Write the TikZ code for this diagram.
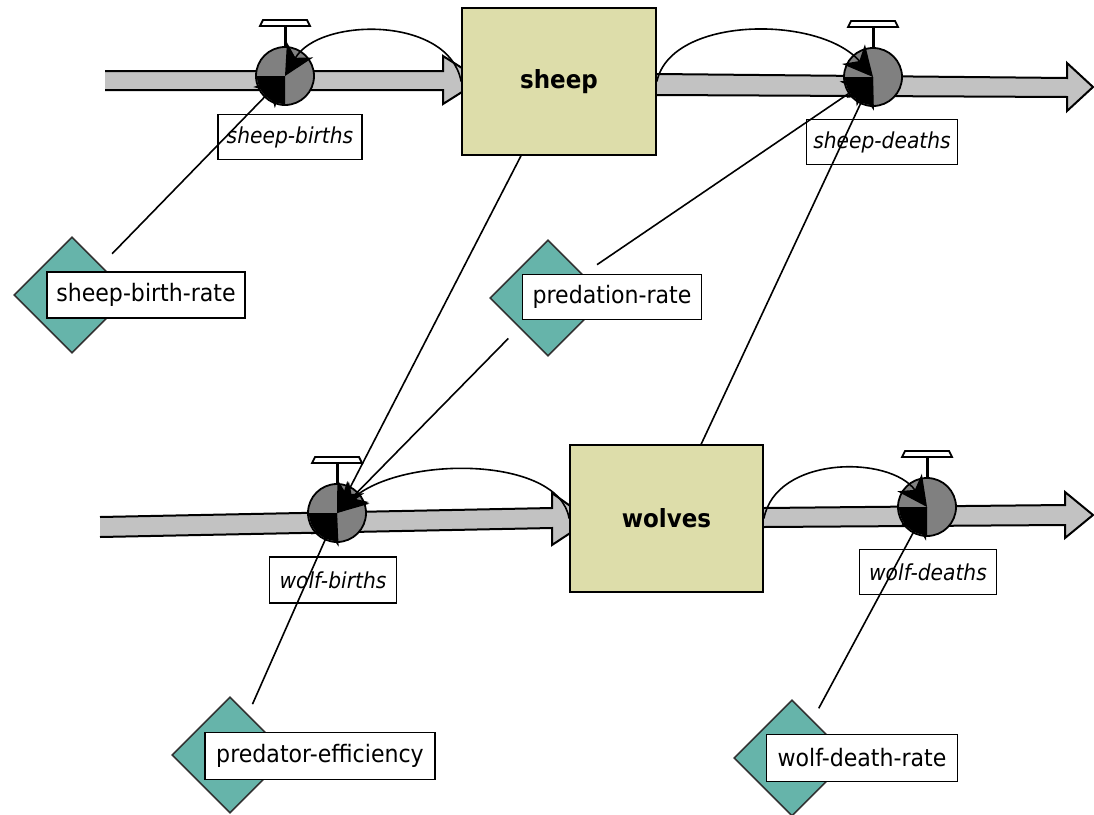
\documentclass[tikz,border=0pt]{standalone}
\usepackage{fontspec}
\setmainfont{DejaVu Sans}[FakeStretch=0.92]
\usetikzlibrary{arrows.meta,shapes.geometric}
\definecolor{stockfill}{RGB}{221,221,170}
\definecolor{pipefill}{RGB}{194,194,194}
\definecolor{valvefill}{RGB}{128,128,128}
\definecolor{constfill}{RGB}{102,180,170}
\tikzset{
  pipeline/.style={draw=black,line width=2pt,line join=miter},
  stockbox/.style={draw=black,line width=1.8pt,fill=stockfill,rectangle,inner sep=0pt,
    font=\fontsize{25}{29}\selectfont\bfseries},
  valvecirc/.style={draw=black,line width=1.8pt,fill=valvefill,circle,inner sep=0pt,minimum size=58pt},
  handlebar/.style={draw=black,line width=1.8pt,fill=white},
  ratelabel/.style={draw=black,line width=1.5pt,fill=white,rectangle,inner sep=0pt,
    font=\fontsize{22}{26}\selectfont\itshape},
  constdiam/.style={draw=black!80,line width=1.6pt,fill=constfill,diamond,aspect=1,inner sep=0pt,minimum size=116pt},
  constlabel/.style={draw=black,line width=1.5pt,fill=white,rectangle,inner sep=0pt,
    font=\fontsize{24}{28}\selectfont},
  link/.style={draw=black,line width=1.6pt,-{Stealth[length=30pt,width=30pt,inset=9pt]}}
}
\begin{document}
\begin{tikzpicture}[x=1pt,y=-1pt]
\useasboundingbox (0,0) rectangle (1094,814);
\fill[white] (0,0) rectangle (1094,814);

% ---- pipes (flows) ----
\fill[pipefill] (105,71) -- (443,71) -- (443,56) -- (481,80) -- (443,104) -- (443,90) -- (105,90) -- cycle;
\draw[pipeline] (105,71) -- (443,71) -- (443,56) -- (481,80) -- (443,104) -- (443,90) -- (105,90);

\fill[pipefill] (657,74) -- (1067,78) -- (1067,63) -- (1093,87) -- (1067,111) -- (1067,97) -- (657,95) -- cycle;
\draw[pipeline] (657,74) -- (1067,78) -- (1067,63) -- (1093,87) -- (1067,111) -- (1067,97) -- (657,95);

\fill[pipefill] (100,517) -- (552,508) -- (552,493) -- (590,520) -- (552,545) -- (552,528) -- (100,537) -- cycle;
\draw[pipeline] (100,517) -- (552,508) -- (552,493) -- (590,520) -- (552,545) -- (552,528) -- (100,537);

\fill[pipefill] (764,508) -- (1065,505) -- (1065,492) -- (1093,515) -- (1065,538) -- (1065,525) -- (764,527) -- cycle;
\draw[pipeline] (764,508) -- (1065,505) -- (1065,492) -- (1093,515) -- (1065,538) -- (1065,525) -- (764,527);

% ---- valves ----
\foreach \n/\cx/\cy in {sb/285/76, sd/873/77, wb/337/513, wd/927/507}{
  \draw[black,line width=3pt] (\cx,\cy-28) -- (\cx,\cy-50);
  \draw[handlebar] (\cx-25,\cy-50) -- (\cx+25,\cy-50) -- (\cx+22,\cy-56) -- (\cx-22,\cy-56) -- cycle;
  \node[valvecirc] (\n) at (\cx,\cy) {};
  \fill[black] (\cx,\cy) -- (\cx-28,\cy) arc[start angle=180,end angle=90,radius=28] -- cycle;
}

% ---- rate labels ----
\node[ratelabel,minimum width=144pt,minimum height=45pt] (sbl) at (290,137) {sheep-births};
\node[ratelabel,minimum width=151pt,minimum height=45pt] (sdl) at (882,142) {sheep-deaths};
\node[ratelabel,minimum width=127pt,minimum height=46pt] (wbl) at (333,580) {wolf-births};
\node[ratelabel,minimum width=137pt,minimum height=45pt] (wdl) at (928,572) {wolf-deaths};

% ---- stocks ----
\node[stockbox,minimum width=194pt,minimum height=147pt] (sheep) at (559,81.5) {sheep};
\node[stockbox,minimum width=193pt,minimum height=147pt] (wolves) at (666.5,518.5) {wolves};

% ---- constants ----
\node[constdiam] (sbrd) at (72,295) {};
\node[constlabel,minimum width=198pt,minimum height=46pt] (sbr) at (146,295) {sheep-birth-rate};
\node[constdiam] (prd) at (548,298) {};
\node[constlabel,minimum width=179pt,minimum height=45pt] (pr) at (612,297) {predation-rate};
\node[constdiam] (ped) at (230,755) {};
\node[constlabel,minimum width=230pt,minimum height=47pt] (pe) at (320,756) {predator-efficiency};
\node[constdiam] (wdrd) at (792,758) {};
\node[constlabel,minimum width=191pt,minimum height=47pt] (wdr) at (862,758) {wolf-death-rate};

% ---- links ----
\draw[link,shorten <=16pt] (sbrd) -- (sb.center);
\draw[link,shorten <=17pt] (prd) -- (sd.center);
\draw[link,shorten <=15pt] (prd) -- (wb.center);
\draw[link,shorten <=11pt] (ped) -- (wb.center);
\draw[link,shorten <=13pt] (wdrd) -- (wd.center);
\draw[link] (sheep) -- (wb.center);
\draw[link] (wolves) -- (sd.center);
\draw[link] (sheep.west) .. controls +(-12,-66) and +(34,-59) .. (sb.center);
\draw[link] (sheep.east) .. controls +(14,-66) and +(-53,-62) .. (sd.center);
\draw[link] (wolves.west) .. controls +(-10,-63) and +(63,-58) .. (wb.center);
\draw[link] (wolves.east) .. controls +(12,-63) and +(-37,-52) .. (wd.center);
\end{tikzpicture}
\end{document}
